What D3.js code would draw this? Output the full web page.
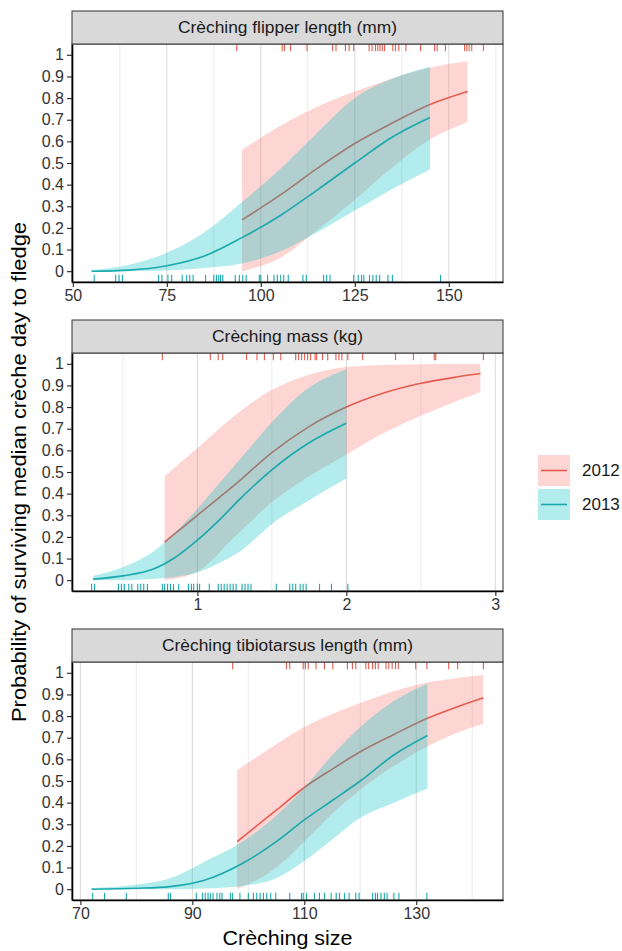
<!DOCTYPE html>
<html>
<head>
<meta charset="utf-8">
<script src="https://cdn.jsdelivr.net/npm/d3@7"></script>
<style>
  body { margin: 0; background: #fff; }
  text { font-family: "Liberation Sans", Arial, sans-serif; }
</style>
</head>
<body>
<div id="chart"></div>
<script>
// ---- data ----
var years = ["2012", "2013"];
var yTicks = [0, 0.1, 0.2, 0.3, 0.4, 0.5, 0.6, 0.7, 0.8, 0.9, 1];
var yLabels = ["0", "0.1", "0.2", "0.3", "0.4", "0.5", "0.6", "0.7", "0.8", "0.9", "1"];

// flipper length
var flipX12 = [95, 105, 115, 125, 135, 145, 155];
var flipFit12 = [0.237, 0.35, 0.475, 0.59, 0.685, 0.77, 0.83];
var flipLo12 = [0.0, 0.06, 0.19, 0.33, 0.48, 0.61, 0.69];
var flipHi12 = [0.56, 0.67, 0.76, 0.83, 0.89, 0.94, 0.97];
var flipX13 = [55, 65, 75, 85, 95, 105, 115, 125, 135, 145];
var flipFit13 = [0.0, 0.005, 0.025, 0.07, 0.155, 0.255, 0.375, 0.5, 0.62, 0.71];
var flipLo13 = [0.0, 0.0, 0.003, 0.015, 0.035, 0.09, 0.18, 0.28, 0.38, 0.47];
var flipHi13 = [0.005, 0.03, 0.085, 0.18, 0.32, 0.47, 0.64, 0.8, 0.89, 0.945];
var flipRug12 = [93.6, 105.7, 106.3, 107.9, 112.3, 119.1, 120.0, 122.5, 123.5, 124.7, 128.8, 129.6, 130.5, 131.1, 131.7, 132.3, 132.9, 135.1, 135.8, 136.7, 138.6, 142.5, 146.2, 146.9, 149.1, 154.2, 154.8, 155.4, 156.1, 159.2];
var flipRug13 = [55.7, 61.4, 62.3, 63.2, 72.8, 73.7, 75.3, 76.3, 79.1, 80.3, 81.1, 82.0, 85.3, 87.5, 88.2, 88.8, 89.3, 89.9, 93.2, 94.3, 95.2, 96.1, 99.6, 100, 101.8, 103.5, 104.4, 105.3, 106.1, 107.3, 111.2, 112.1, 116.7, 117.5, 118.4, 124.7, 125.9, 126.8, 127.4, 128.9, 129.8, 130.7, 131.6, 133.8, 135.0, 147.8];
var flipTicks = [50, 75, 100, 125, 150];
var flipMinor = [62.5, 87.5, 112.5, 137.5, 162.5];

// mass
var massX12 = [0.78, 1.0, 1.25, 1.5, 1.75, 2.0, 2.25, 2.5, 2.75, 2.9];
var massFit12 = [0.176, 0.3, 0.44, 0.59, 0.71, 0.8, 0.865, 0.91, 0.94, 0.955];
var massLo12 = [0.0, 0.04, 0.2, 0.36, 0.48, 0.58, 0.68, 0.76, 0.83, 0.87];
var massHi12 = [0.48, 0.61, 0.76, 0.88, 0.95, 0.985, 0.995, 0.998, 0.999, 0.999];
var massX13 = [0.3, 0.5, 0.7, 0.85, 1.0, 1.15, 1.3, 1.5, 1.75, 2.0];
var massFit13 = [0.005, 0.02, 0.05, 0.105, 0.185, 0.28, 0.385, 0.51, 0.635, 0.725];
var massLo13 = [0.0, 0.0, 0.005, 0.015, 0.035, 0.08, 0.14, 0.26, 0.37, 0.47];
var massHi13 = [0.02, 0.06, 0.13, 0.22, 0.33, 0.45, 0.57, 0.73, 0.89, 0.975];
var massRug12 = [0.765, 1.087, 1.14, 1.17, 1.33, 1.40, 1.45, 1.51, 1.56, 1.66, 1.68, 1.70, 1.72, 1.74, 1.76, 1.79, 1.80, 1.84, 1.875, 1.93, 1.95, 1.97, 2.01, 2.11, 2.33, 2.45, 2.59, 2.60, 2.92];
var massRug13 = [0.29, 0.31, 0.47, 0.49, 0.51, 0.54, 0.56, 0.60, 0.62, 0.64, 0.665, 0.765, 0.78, 0.80, 0.82, 0.84, 0.875, 0.94, 0.96, 0.975, 1.0, 1.015, 1.08, 1.14, 1.16, 1.18, 1.20, 1.22, 1.24, 1.26, 1.30, 1.32, 1.34, 1.36, 1.53, 1.62, 1.64, 1.66, 1.69, 1.71, 1.73, 1.82, 1.90, 2.01];
var massTicks = [1, 2, 3];
var massMinor = [0.5, 1.5, 2.5];

// tibiotarsus length
var tibX12 = [98, 105, 110, 115, 120, 126, 132, 137, 142];
var tibFit12 = [0.22, 0.365, 0.47, 0.555, 0.635, 0.715, 0.79, 0.84, 0.885];
var tibLo12 = [0.0, 0.1, 0.22, 0.35, 0.46, 0.57, 0.66, 0.72, 0.765];
var tibHi12 = [0.55, 0.67, 0.75, 0.81, 0.86, 0.915, 0.955, 0.975, 0.99];
var tibX13 = [72, 80, 86, 92, 99, 105, 110, 115, 120, 126, 132];
var tibFit13 = [0.0, 0.004, 0.012, 0.04, 0.12, 0.22, 0.32, 0.41, 0.5, 0.62, 0.71];
var tibLo13 = [0.0, 0.0, 0.0, 0.003, 0.015, 0.05, 0.13, 0.23, 0.33, 0.4, 0.465];
var tibHi13 = [0.005, 0.02, 0.05, 0.125, 0.22, 0.34, 0.47, 0.62, 0.75, 0.87, 0.95];
var tibRug12 = [97.2, 106.8, 107.4, 109.8, 110.2, 110.7, 112.1, 113.6, 115.1, 117.7, 118.6, 119.2, 121.0, 121.5, 122.2, 122.7, 123.2, 124.6, 125.1, 125.7, 126.3, 126.8, 129.9, 131.9, 135.8, 137.4, 142.0];
var tibRug13 = [72.2, 74.3, 78.2, 85.7, 86.1, 90.7, 91.8, 92.3, 92.8, 93.2, 93.7, 94.4, 94.9, 95.3, 96.8, 97.2, 98.5, 100.0, 100.9, 101.5, 102.1, 102.7, 103.3, 104.0, 104.9, 107.4, 109.5, 109.8, 110.4, 111.8, 112.7, 113.6, 114.8, 115.7, 116.3, 117.2, 118.0, 119.2, 119.8, 122.2, 122.7, 123.1, 123.7, 124.3, 124.8, 126.0, 126.9, 131.9];
var tibTicks = [70, 90, 110, 130];
var tibMinor = [80, 100, 120, 140];

// ---- layout ----
var svgWidth = 622, svgHeight = 951;
var plotLeft = 72, plotRight = 503;
var stripH = 33, plotH = 238;

var colFill = { "2012": "#F8766D", "2013": "#00BFC4" };
var colLine = { "2012": "#e65c50", "2013": "#1aa9ad" };

function zipFit(xs, fit, lo, hi) {
  return xs.map(function(x, i) { return { x: x, y: fit[i], lo: lo[i], hi: hi[i] }; });
}

var panels = [
  { title: "Crèching flipper length (mm)", titleLen: 219, top: 11, ticks: flipTicks, minor: flipMinor,
    fit: { "2012": zipFit(flipX12, flipFit12, flipLo12, flipHi12), "2013": zipFit(flipX13, flipFit13, flipLo13, flipHi13) },
    rug: { "2012": flipRug12, "2013": flipRug13 } },
  { title: "Crèching mass (kg)", titleLen: 151, top: 320, ticks: massTicks, minor: massMinor,
    fit: { "2012": zipFit(massX12, massFit12, massLo12, massHi12), "2013": zipFit(massX13, massFit13, massLo13, massHi13) },
    rug: { "2012": massRug12, "2013": massRug13 } },
  { title: "Crèching tibiotarsus length (mm)", titleLen: 251, top: 629, ticks: tibTicks, minor: tibMinor,
    fit: { "2012": zipFit(tibX12, tibFit12, tibLo12, tibHi12), "2013": zipFit(tibX13, tibFit13, tibLo13, tibHi13) },
    rug: { "2012": tibRug12, "2013": tibRug13 } }
];

var svg = d3.select("#chart").append("svg")
  .attr("width", svgWidth)
  .attr("height", svgHeight);

panels.forEach(function(p) {
  var plotTop = p.top + stripH;
  var plotBottom = plotTop + plotH;

  // x range = data extent + 5% on each side (ggplot style)
  var allX = p.rug["2012"].concat(p.rug["2013"], p.fit["2012"].map(d => d.x), p.fit["2013"].map(d => d.x));
  var ext = d3.extent(allX);
  var pad = (ext[1] - ext[0]) * 0.05;
  var xScale = d3.scaleLinear().domain([ext[0] - pad, ext[1] + pad]).range([plotLeft, plotRight]);
  var yScale = d3.scaleLinear().domain([-0.05, 1.05]).range([plotBottom, plotTop]);

  var g = svg.append("g");

  // vertical grid lines only
  g.selectAll(".minor").data(p.minor.filter(v => v >= xScale.domain()[0] && v <= xScale.domain()[1]))
    .enter().append("line")
    .attr("x1", d => xScale(d)).attr("x2", d => xScale(d))
    .attr("y1", plotTop).attr("y2", plotBottom)
    .attr("stroke", "#e9e9e9").attr("stroke-width", 0.9);
  g.selectAll(".major").data(p.ticks)
    .enter().append("line")
    .attr("x1", d => xScale(d)).attr("x2", d => xScale(d))
    .attr("y1", plotTop).attr("y2", plotBottom)
    .attr("stroke", "#d9d9d9").attr("stroke-width", 1);

  var area = d3.area()
    .x(d => xScale(d.x))
    .y0(d => yScale(d.lo))
    .y1(d => yScale(d.hi))
    .curve(d3.curveMonotoneX);
  var line = d3.line()
    .x(d => xScale(d.x))
    .y(d => yScale(d.y))
    .curve(d3.curveMonotoneX);

  years.forEach(function(yr) {
    g.append("path")
      .attr("d", area(p.fit[yr]))
      .attr("fill", colFill[yr])
      .attr("fill-opacity", 0.3);
    g.append("path")
      .attr("d", line(p.fit[yr]))
      .attr("fill", "none")
      .attr("stroke", colLine[yr])
      .attr("stroke-width", 1.6);
  });

  // rugs: 2012 on top edge, 2013 on bottom edge
  var rugLen = plotH * 0.03;
  g.selectAll(".rug12").data(p.rug["2012"])
    .enter().append("line")
    .attr("x1", d => xScale(d)).attr("x2", d => xScale(d))
    .attr("y1", plotTop).attr("y2", plotTop + rugLen)
    .attr("stroke", colLine["2012"]).attr("stroke-width", 1.1);
  g.selectAll(".rug13").data(p.rug["2013"])
    .enter().append("line")
    .attr("x1", d => xScale(d)).attr("x2", d => xScale(d))
    .attr("y1", plotBottom).attr("y2", plotBottom - rugLen)
    .attr("stroke", colLine["2013"]).attr("stroke-width", 1.1);

  // panel border
  g.append("rect")
    .attr("x", plotLeft).attr("y", plotTop)
    .attr("width", plotRight - plotLeft).attr("height", plotH)
    .attr("fill", "none").attr("stroke", "#333").attr("stroke-width", 1);

  // axes
  var xAxis = g.append("g")
    .attr("transform", `translate(0, ${plotBottom})`)
    .call(d3.axisBottom(xScale).tickValues(p.ticks).tickFormat(d3.format("~g"))
      .tickSize(5).tickSizeOuter(0).tickPadding(3));
  var yAxis = g.append("g")
    .attr("transform", `translate(${plotLeft}, 0)`)
    .call(d3.axisLeft(yScale).tickValues(yTicks).tickFormat((d, i) => yLabels[i])
      .tickSize(5).tickSizeOuter(0).tickPadding(3));
  [xAxis, yAxis].forEach(function(a) {
    a.select(".domain").attr("stroke", "#000").attr("stroke-width", 1.6);
    a.selectAll(".tick line").attr("stroke", "#222").attr("stroke-width", 1.1);
    a.selectAll(".tick text").attr("fill", "#333").style("font-size", "16px")
      .style("font-family", '"Liberation Sans", Arial, sans-serif');
  });

  // strip
  g.append("rect")
    .attr("x", plotLeft).attr("y", p.top)
    .attr("width", plotRight - plotLeft).attr("height", stripH)
    .attr("fill", "#d9d9d9").attr("stroke", "#333").attr("stroke-width", 1);
  g.append("text")
    .attr("x", (plotLeft + plotRight) / 2)
    .attr("y", p.top + stripH / 2)
    .attr("dy", "0.35em")
    .attr("text-anchor", "middle")
    .attr("fill", "#1a1a1a")
    .attr("textLength", p.titleLen)
    .attr("lengthAdjust", "spacingAndGlyphs")
    .style("font-size", "16px")
    .text(p.title);
});

// axis titles
svg.append("text")
  .attr("x", (plotLeft + plotRight) / 2)
  .attr("y", 945)
  .attr("text-anchor", "middle")
  .attr("fill", "#000")
  .attr("textLength", 130)
  .attr("lengthAdjust", "spacingAndGlyphs")
  .style("font-size", "19.5px")
  .text("Crèching size");

svg.append("text")
  .attr("transform", `translate(26, ${(panels[0].top + stripH + panels[2].top + stripH + plotH) / 2}) rotate(-90)`)
  .attr("text-anchor", "middle")
  .attr("fill", "#000")
  .attr("textLength", 500)
  .attr("lengthAdjust", "spacingAndGlyphs")
  .style("font-size", "19.5px")
  .text("Probability of surviving median crèche day to fledge");

// legend
var legend = svg.append("g").attr("transform", "translate(538, 455)");
years.forEach(function(yr, i) {
  var lg = legend.append("g").attr("transform", `translate(0, ${i * 34})`);
  lg.append("rect")
    .attr("width", 32).attr("height", 31)
    .attr("fill", colFill[yr]).attr("fill-opacity", 0.3);
  lg.append("line")
    .attr("x1", 3).attr("x2", 29)
    .attr("y1", 15.5).attr("y2", 15.5)
    .attr("stroke", colLine[yr]).attr("stroke-width", 1.6);
  lg.append("text")
    .attr("x", 44).attr("y", 15.5).attr("dy", "0.35em")
    .attr("fill", "#1a1a1a")
    .style("font-size", "17px")
    .text(yr);
});
</script>
</body>
</html>
